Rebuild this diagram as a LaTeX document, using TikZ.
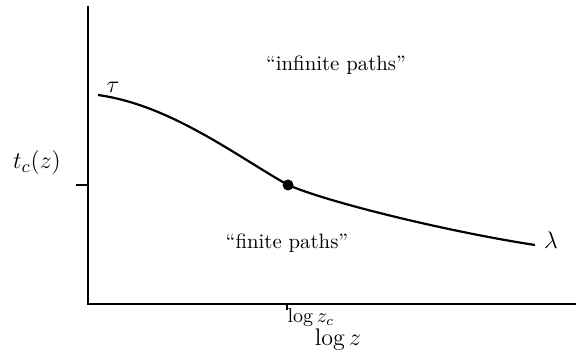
\documentclass[tikz,border=0pt]{standalone}
\begin{document}
\begin{tikzpicture}[x=0.5pt,y=-0.5pt,
  axis/.style={line width=1.15pt},
  curve/.style={line width=1.1pt},
  lbl/.style={inner sep=0pt, font=\fontsize{10.4}{12}\selectfont},
  biglbl/.style={inner sep=0pt, font=\fontsize{12.4}{14}\selectfont}]
\useasboundingbox (0,0) rectangle (576,356);
% axes
\coordinate (top) at (88,6);
\coordinate (origin) at (88,304);
\coordinate (right) at (576,304);
\draw[axis] (top) -- (origin) -- (right);
% ticks
\coordinate (ty) at (88,185);
\coordinate (tyl) at (76,185);
\draw[axis] (tyl) -- (ty);
\coordinate (tx) at (287,304);
\coordinate (txb) at (287,310);
\draw[line width=0.6pt] (tx) -- (txb);
% curve
\coordinate (s) at (98,95);
\coordinate (m) at (288,185);
\coordinate (e) at (535,245);
\draw[curve] (s) .. controls (170,105) and (235,155) .. (m)
  .. controls (330,203) and (450,232) .. (e);
\node[circle, fill, inner sep=0pt, minimum size=5.5pt] (c) at (m) {};
% labels
\node[biglbl] (tau) at (113,87) {$\tau$};
\node[biglbl] (lam) at (551,240) {$\lambda$};
\node[biglbl] (tc) at (37,163) {$t_c(z)$};
\node[lbl] (inf) at (336,65) {``infinite paths''};
\node[lbl] (fin) at (287,243) {``finite paths''};
\node[lbl] (lzc) at (311,318) {$\log z_c$};
\node[biglbl] (lz) at (338,340) {$\log z$};
\end{tikzpicture}
\end{document}
